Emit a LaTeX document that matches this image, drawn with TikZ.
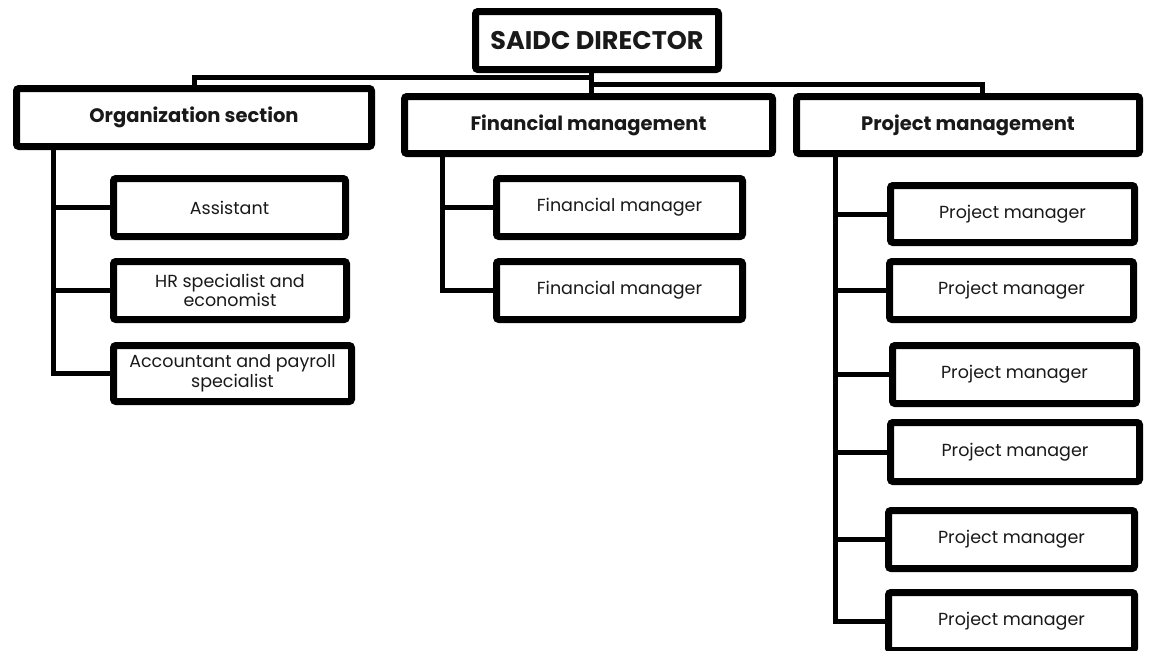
\documentclass[tikz,border=0pt]{standalone}
\usepackage{fontspec}
\setmainfont{Poppins}
\usetikzlibrary{shadows}
\begin{document}
\begin{tikzpicture}[x=1pt,y=-1pt,
  box/.style={draw=black, line width=7pt, fill=white, rounded corners=2.5pt,
    inner sep=0pt, align=center, text=black!90,
    drop shadow={opacity=0.22, shadow xshift=2pt, shadow yshift=-3pt}},
  topbox/.style={box, font=\bfseries\fontsize{25.5}{30}\selectfont},
  headbox/.style={box, font=\bfseries\fontsize{19.5}{23}\selectfont},
  leafbox/.style={box, font=\fontsize{17.5}{19.5}\selectfont},
  link/.style={draw=black, line width=5pt, line cap=rect}]
\path[use as bounding box, fill=white] (0,0) rectangle (1152,651);
\begin{scope}
\clip (0,0) rectangle (1152,651);
\coordinate (j1) at (591,77);
\coordinate (j2) at (591,84);
\coordinate (jp) at (982,84);
\coordinate (to) at (53,0);
\coordinate (tf) at (442,0);
\coordinate (tp) at (835,0);

\node[topbox, minimum width=243pt, minimum height=58pt] (dir) at (597,40.5) {SAIDC DIRECTOR};
\node[headbox, minimum width=355pt, minimum height=58pt] (org) at (194,117.5) {Organization section};
\node[headbox, minimum width=368pt, minimum height=57pt] (fin) at (588.5,125) {Financial management};
\node[headbox, minimum width=343pt, minimum height=57pt] (prj) at (968,125) {Project management};

\node[leafbox, minimum width=232pt, minimum height=58pt] (o1) at (229.5,207.5) {Assistant};
\node[leafbox, minimum width=233pt, minimum height=58pt] (o2) at (230,290.5) {HR specialist and\\economist};
\node[leafbox, minimum width=238pt, minimum height=56pt] (o3) at (232.5,373.5) {Accountant and payroll\\specialist};

\node[leafbox, minimum width=246pt, minimum height=58pt] (f1) at (619.5,207.5) {Financial manager};
\node[leafbox, minimum width=246pt, minimum height=58pt] (f2) at (619.5,290.5) {Financial manager};

\node[leafbox, minimum width=244pt, minimum height=57pt] (p1) at (1012.5,214) {Project manager};
\node[leafbox, minimum width=244pt, minimum height=58pt] (p2) at (1011.5,290.5) {Project manager};
\node[leafbox, minimum width=244pt, minimum height=58pt] (p3) at (1014.5,374.5) {Project manager};
\node[leafbox, minimum width=249pt, minimum height=59pt] (p4) at (1015,452) {Project manager};
\node[leafbox, minimum width=246pt, minimum height=58pt] (p5) at (1011.5,539.5) {Project manager};
\node[leafbox, minimum width=246pt, minimum height=58pt] (p6) at (1011.5,621.5) {Project manager};

\draw[link] (dir.south -| j1) -- (j2);
\draw[link] (j1) -| (org.north);
\draw[link] (j2) -- (jp) -- (prj.north -| jp);
\draw[link] (j2) -- (fin.north -| j2);

\draw[link] (org.south -| to) -- (o3.west -| to) -- (o3.west);
\draw[link] (o1.west -| to) -- (o1.west);
\draw[link] (o2.west -| to) -- (o2.west);

\draw[link] (fin.south -| tf) -- (f2.west -| tf) -- (f2.west);
\draw[link] (f1.west -| tf) -- (f1.west);

\draw[link] (prj.south -| tp) -- (p6.west -| tp) -- (p6.west);
\draw[link] (p1.west -| tp) -- (p1.west);
\draw[link] (p2.west -| tp) -- (p2.west);
\draw[link] (p3.west -| tp) -- (p3.west);
\draw[link] (p4.west -| tp) -- (p4.west);
\draw[link] (p5.west -| tp) -- (p5.west);
\end{scope}
\end{tikzpicture}
\end{document}
